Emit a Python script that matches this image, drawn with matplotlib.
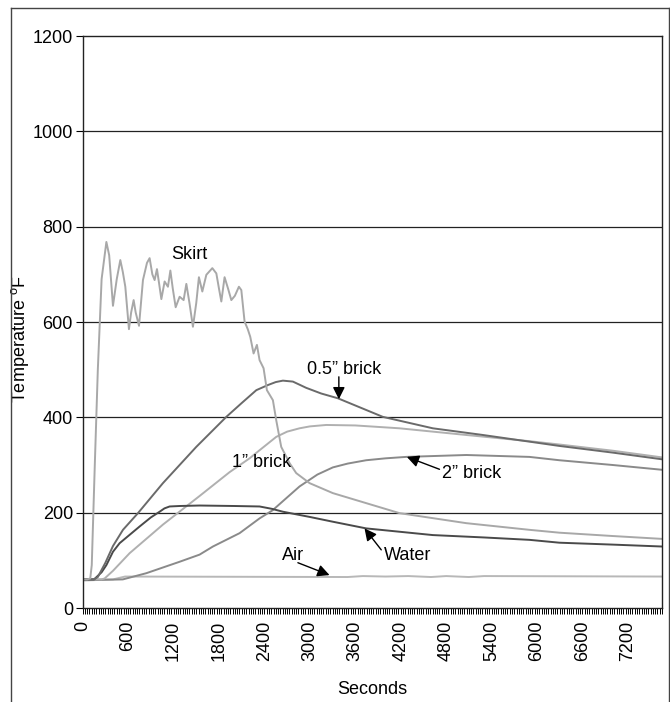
import matplotlib.pyplot as plt
from matplotlib.lines import Line2D
import numpy as np

plt.rcParams['font.family'] = ['Liberation Sans', 'DejaVu Sans']
plt.rcParams['mathtext.fontset'] = 'custom'
plt.rcParams['mathtext.rm'] = 'Liberation Sans'

# readings, seconds -> deg F
SKIRT_T = [0, 60, 100, 120, 160, 200, 250, 313, 350, 400, 450, 497, 530, 563, 611, 640, 673, 700,
           744, 770, 796, 849, 884, 920, 950, 981, 1010, 1039, 1082, 1126, 1158, 1190, 1228, 1280,
           1333, 1369, 1410, 1456, 1500, 1535, 1580, 1633, 1712, 1765, 1800, 1831, 1874, 1920, 1963,
           2010, 2063, 2095, 2138, 2180, 2213, 2257, 2301, 2336, 2389, 2433, 2512, 2556, 2622, 2732,
           2820, 2996, 3304, 3744, 4184, 5065, 5900, 6296, 7000, 7650]
SKIRT = [60, 60, 62, 90, 300, 500, 690, 768, 740, 634, 690, 730, 705, 674, 585, 620, 646, 620,
         592, 640, 688, 724, 734, 700, 688, 711, 680, 648, 685, 674, 708, 670, 631, 653,
         646, 680, 640, 590, 640, 694, 664, 699, 713, 702, 670, 643, 694, 670, 646,
         655, 674, 667, 601, 585, 569, 534, 552, 520, 503, 457, 436, 394, 338, 304,
         283, 262, 241, 220, 199, 178, 164, 158, 151, 145]

BRICK05_T = [0, 150, 200, 300, 400, 532, 730, 1060, 1500, 1897, 2100, 2293, 2450, 2550, 2644,
             2776, 2870, 2950, 3150, 3370, 3964, 4624, 5284, 5900, 6296, 7000, 7650]
BRICK05 = [60, 60, 65, 95, 130, 164, 199, 262, 338, 401, 430, 457, 468, 474, 477,
           475, 468, 462, 450, 440, 401, 377, 363, 349, 340, 326, 312]

BRICK1_T = [0, 250, 290, 400, 620, 1060, 1544, 1940, 2204, 2336, 2556, 2700, 2864, 3000, 3216,
            3600, 4184, 5065, 5900, 6296, 7000, 7650]
BRICK1 = [60, 60, 62, 78, 115, 175, 235, 285, 314, 331, 359, 370, 377, 381, 384,
          383, 377, 363, 350, 343, 330, 316]

BRICK2_T = [0, 530, 840, 1280, 1544, 1720, 2072, 2336, 2508, 2700, 2864, 3100, 3304, 3500, 3744,
            4000, 4272, 5065, 5900, 6296, 7000, 7650]
BRICK2 = [58, 60, 73, 97, 112, 129, 157, 188, 205, 232, 255, 280, 295, 303, 310,
          314, 317, 321, 317, 310, 300, 290]

WATER_T = [0, 150, 250, 313, 400, 488, 752, 900, 1016, 1080, 1148, 1280, 1544, 2000, 2336, 2500,
           2644, 3000, 3304, 3744, 4624, 5300, 5900, 6296, 7000, 7650]
WATER = [60, 60, 75, 90, 118, 136, 171, 190, 202, 209, 213, 214, 215, 214, 213, 208,
         202, 191, 181, 167, 153, 148, 143, 137, 133, 129]

AIR_T = [0, 400, 560, 3500, 3700, 4000, 4300, 4600, 4800, 5100, 5300, 7650]
AIR = [60, 60, 66, 65, 67, 66, 67, 65, 67, 65, 67, 66]

XTICKS = list(range(0, 7201, 600))
YTICKS = [0, 200, 400, 600, 800, 1000, 1200]

fig = plt.figure(figsize=(6.7, 7.02), dpi=100)
ax = fig.add_axes([0.1234, 0.1339, 0.8646, 0.8148])

ax.plot(AIR_T, AIR, color='#b8b8b8', lw=1.4)
ax.plot(BRICK2_T, BRICK2, color='#8a8a8a', lw=1.4)
ax.plot(BRICK1_T, BRICK1, color='#b0b0b0', lw=1.4)
ax.plot(WATER_T, WATER, color='#4a4a4a', lw=1.4)
ax.plot(BRICK05_T, BRICK05, color='#6a6a6a', lw=1.4)
ax.plot(SKIRT_T, SKIRT, color='#a8a8a8', lw=1.4)

ax.set_xlim(0, 7650)
ax.set_ylim(0, 1200)
ax.set_yticks(YTICKS)
ax.set_xticks(XTICKS)
ax.set_xticklabels([str(v) for v in XTICKS], rotation=90, fontsize=13)
ax.set_xticks(np.arange(0, 7651, 30), minor=True)
ax.tick_params(axis='x', which='both', direction='out', length=4, width=0.7, pad=5)
ax.tick_params(axis='y', direction='out', length=5, width=0.8, labelsize=13, pad=2)
for y in YTICKS[1:-1]:
    ax.axhline(y, color='#222222', lw=0.9, zorder=0)
for s in ax.spines.values():
    s.set_color('#222222')
    s.set_linewidth(1.0)

ax.set_ylabel('Temperature $^{\\mathrm{o}}$F', fontsize=13)
ax.yaxis.set_label_coords(-0.09, 0.47)
fig.text(372 / 670, 1 - 690 / 702, 'Seconds', ha='center', va='center', fontsize=13)

# labels and arrows
ax.text(1412, 741, 'Skirt', ha='center', va='center', fontsize=13)
ax.text(3454, 501, '0.5\u201d brick', ha='center', va='center', fontsize=13)
ax.text(2363, 305, '1\u201d brick', ha='center', va='center', fontsize=13)
ax.text(5135, 283, '2\u201d brick', ha='center', va='center', fontsize=13)
ax.text(4290, 111, 'Water', ha='center', va='center', fontsize=13)
ax.text(2772, 111, 'Air', ha='center', va='center', fontsize=13)

arrows = [((3383, 485), (3383, 438)),
          ((4712, 291), (4281, 317)),
          ((3943, 122), (3722, 167)),
          ((2842, 95), (3260, 69))]
for tail, tip in arrows:
    ax.annotate('', xy=tip, xytext=tail,
                arrowprops=dict(arrowstyle='-|>', color='black', lw=1.0,
                                mutation_scale=18, shrinkA=0, shrinkB=0))

# outer frame
fx0, fx1, fy = 11 / 670, 669 / 670, 1 - 8 / 702
fig.add_artist(Line2D([fx0, fx1], [fy, fy], color='#444444', lw=1.0))
fig.add_artist(Line2D([fx0, fx0], [0, fy], color='#444444', lw=1.0))
fig.add_artist(Line2D([fx1, fx1], [0, fy], color='#444444', lw=1.0))

fig.savefig('out.png', dpi=100)
